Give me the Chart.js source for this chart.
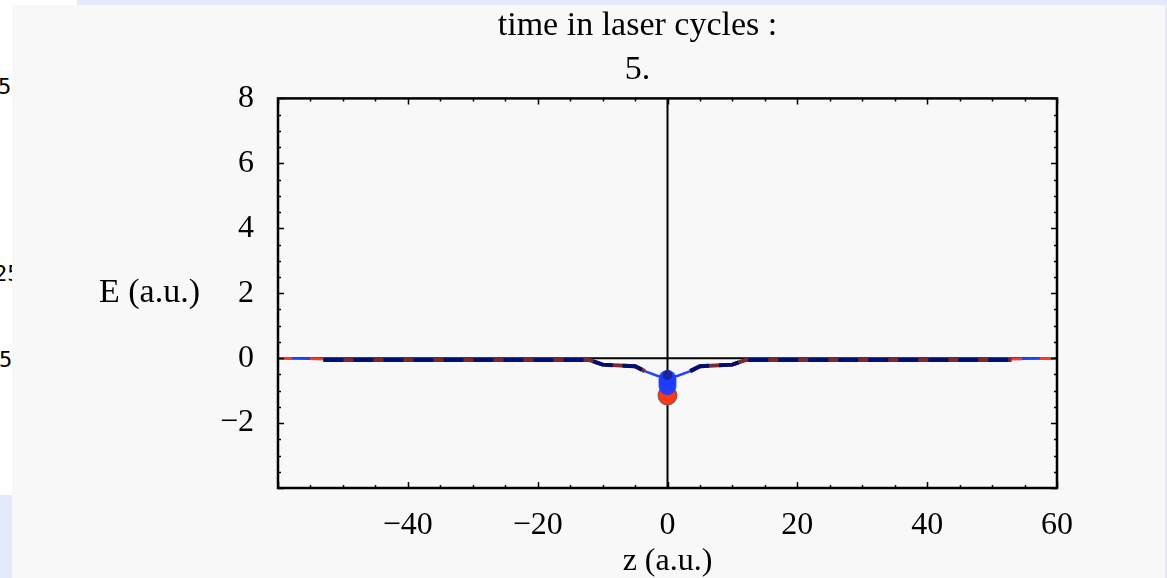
<!DOCTYPE html>
<html>
<head>
<meta charset="utf-8">
<script src="https://cdn.jsdelivr.net/npm/chart.js@4.4.1/dist/chart.umd.min.js"></script>
<style>
html, body { margin: 0; padding: 0; }
body { width: 1167px; height: 578px; background: #e4eafa; position: relative; overflow: hidden; }
#corner { position: absolute; left: 0; top: 0; width: 77px; height: 5px; background: #fff; }
#strip { position: absolute; left: 0; top: 5px; width: 12px; height: 490px; background: #fff; overflow: hidden;
         font: 22px "DejaVu Sans Mono", monospace; color: #000; }
#strip span { position: absolute; white-space: nowrap; line-height: 22px; }
#panel { position: absolute; left: 12px; top: 5px; width: 1153px; height: 573px; background: #f8f8f8; }
#chart { position: absolute; left: 0; top: 0; }
</style>
</head>
<body>
<div id="corner"></div>
<div id="strip">
  <span style="left:-2px;top:71px">5</span>
  <span style="left:-6px;top:258px">25</span>
  <span style="left:-1px;top:344px">50</span>
</div>
<div id="panel"></div>
<canvas id="chart" width="1167" height="578"></canvas>
<script>
// values
const titleLines = ["time in laser cycles :", "5."];
const xTitle = "z (a.u.)";
const yTitle = "E (a.u.)";
const xTicks = [-40, -20, 0, 20, 40, 60];
const yTicks = [-2, 0, 2, 4, 6, 8];

// thin field curve (blue solid, red dashed over it)
const fieldZ = [-60, -53, -12, -10, -5, -3.5, -1.5, 0, 1.5, 3.5, 5, 10, 12, 53, 60];
const fieldE = [0, -0.03, -0.06, -0.2, -0.25, -0.4, -0.55, -0.6, -0.55, -0.4, -0.25, -0.2, -0.06, -0.03, 0];

// thick dark curve in the middle
const coreZ = [-53, -12, -10, -5, -3.5, 0, 3.5, 5, 10, 12, 53];
const coreE = [-0.06, -0.06, -0.2, -0.25, -0.4, null, -0.4, -0.25, -0.2, -0.06, -0.06];

// the blob at z = 0
const navyBlobE = [-0.52];
const blueBlobE = [-0.64, -0.74, -0.86];
const redBlobE = [-1.15];

const serif = "Liberation Serif";

function toPoints(xs, ys) {
    return xs.map((x, i) => ({ x: x, y: ys[i] }));
}

function fmt(v) {
    return v < 0 ? "\u2212" + Math.abs(v) : String(v);
}

const framePlugin = {
    id: "frame",
    beforeDatasetsDraw(chart) {
        const { ctx, chartArea: a, scales: { x, y } } = chart;
        const x0 = x.getPixelForValue(0);
        const y0 = y.getPixelForValue(0);
        ctx.save();
        ctx.strokeStyle = "#000";
        ctx.lineWidth = 2;
        ctx.beginPath();
        ctx.moveTo(x0, a.top);
        ctx.lineTo(x0, a.bottom);
        ctx.moveTo(a.left, y0);
        ctx.lineTo(a.right, y0);
        ctx.stroke();
        ctx.restore();
    },
    afterDraw(chart) {
        const { ctx, chartArea: a, scales: { x, y } } = chart;
        ctx.save();
        ctx.strokeStyle = "#000";
        ctx.lineWidth = 2.5;
        ctx.strokeRect(a.left, a.top, a.right - a.left, a.bottom - a.top);

        // inward ticks on all four sides
        ctx.lineWidth = 1.5;
        ctx.beginPath();
        for (let v = x.min; v <= x.max; v += 5) {
            const px = Math.round(x.getPixelForValue(v)) + 0.5;
            const len = v % 20 === 0 ? 6 : 3;
            ctx.moveTo(px, a.bottom); ctx.lineTo(px, a.bottom - len);
            ctx.moveTo(px, a.top); ctx.lineTo(px, a.top + len);
        }
        for (let v = y.min; v <= y.max; v += 0.5) {
            const py = Math.round(y.getPixelForValue(v)) + 0.5;
            const len = v % 2 === 0 ? 6 : 3;
            ctx.moveTo(a.left, py); ctx.lineTo(a.left + len, py);
            ctx.moveTo(a.right, py); ctx.lineTo(a.right - len, py);
        }
        ctx.stroke();

        // horizontal y title beside the "2" label
        ctx.fillStyle = "#000";
        ctx.font = "34px '" + serif + "'";
        ctx.textAlign = "right";
        ctx.textBaseline = "middle";
        ctx.fillText(yTitle, a.left - 78, y.getPixelForValue(2));
        ctx.restore();
    }
};

document.addEventListener("DOMContentLoaded", function() {
    const ctx = document.getElementById("chart").getContext("2d");
    new Chart(ctx, {
        type: "line",
        data: {
            datasets: [
                {
                    type: "scatter",
                    data: navyBlobE.map(e => ({ x: 0, y: e })),
                    backgroundColor: "#14289a",
                    borderWidth: 0,
                    pointRadius: 5,
                    order: 0
                },
                {
                    type: "scatter",
                    data: blueBlobE.map(e => ({ x: 0, y: e })),
                    backgroundColor: "rgba(29, 60, 255, 0.9)",
                    borderWidth: 0,
                    pointRadius: 9,
                    order: 1
                },
                {
                    type: "scatter",
                    data: redBlobE.map(e => ({ x: 0, y: e })),
                    backgroundColor: "#ff3a14",
                    borderColor: "#a4504c",
                    borderWidth: 2,
                    pointRadius: 9,
                    order: 2
                },
                {
                    data: toPoints(coreZ, coreE),
                    borderColor: "#001070",
                    borderWidth: 4,
                    borderDash: [20, 10],
                    pointRadius: 0,
                    order: 3
                },
                {
                    data: toPoints(coreZ, coreE),
                    borderColor: "#7a2a34",
                    borderWidth: 4,
                    pointRadius: 0,
                    order: 4
                },
                {
                    data: toPoints(fieldZ, fieldE),
                    borderColor: "#ff3a1a",
                    borderWidth: 2.5,
                    borderDash: [14, 18],
                    pointRadius: 0,
                    order: 5
                },
                {
                    data: toPoints(fieldZ, fieldE),
                    borderColor: "#2244ff",
                    borderWidth: 2.5,
                    pointRadius: 0,
                    order: 6
                }
            ]
        },
        options: {
            responsive: false,
            animation: false,
            layout: { padding: { left: 218, right: 110, top: 0, bottom: 0 } },
            plugins: {
                legend: { display: false },
                tooltip: { enabled: false },
                title: {
                    display: true,
                    text: titleLines,
                    color: "#000",
                    font: { family: serif, size: 34, weight: "normal", lineHeight: 1.3 },
                    padding: { top: 4, bottom: 6 }
                }
            },
            scales: {
                x: {
                    type: "linear",
                    min: -60,
                    max: 60,
                    afterBuildTicks: s => { s.ticks = xTicks.map(v => ({ value: v })); },
                    afterFit: s => { s.height = 90; },
                    grid: { display: false },
                    border: { display: false },
                    ticks: { padding: 10, color: "#000", font: { family: serif, size: 32 }, callback: fmt, maxRotation: 0 },
                    title: {
                        display: true,
                        text: xTitle,
                        color: "#000",
                        font: { family: serif, size: 32, lineHeight: 1 },
                        padding: { top: 0, bottom: 0 }
                    }
                },
                y: {
                    type: "linear",
                    min: -4,
                    max: 8,
                    afterBuildTicks: s => { s.ticks = yTicks.map(v => ({ value: v })); },
                    afterFit: s => { s.width = 60; },
                    grid: { display: false },
                    border: { display: false },
                    ticks: { padding: 16, color: "#000", font: { family: serif, size: 32 }, callback: fmt }
                }
            }
        },
        plugins: [framePlugin]
    });
});
</script>
</body>
</html>
